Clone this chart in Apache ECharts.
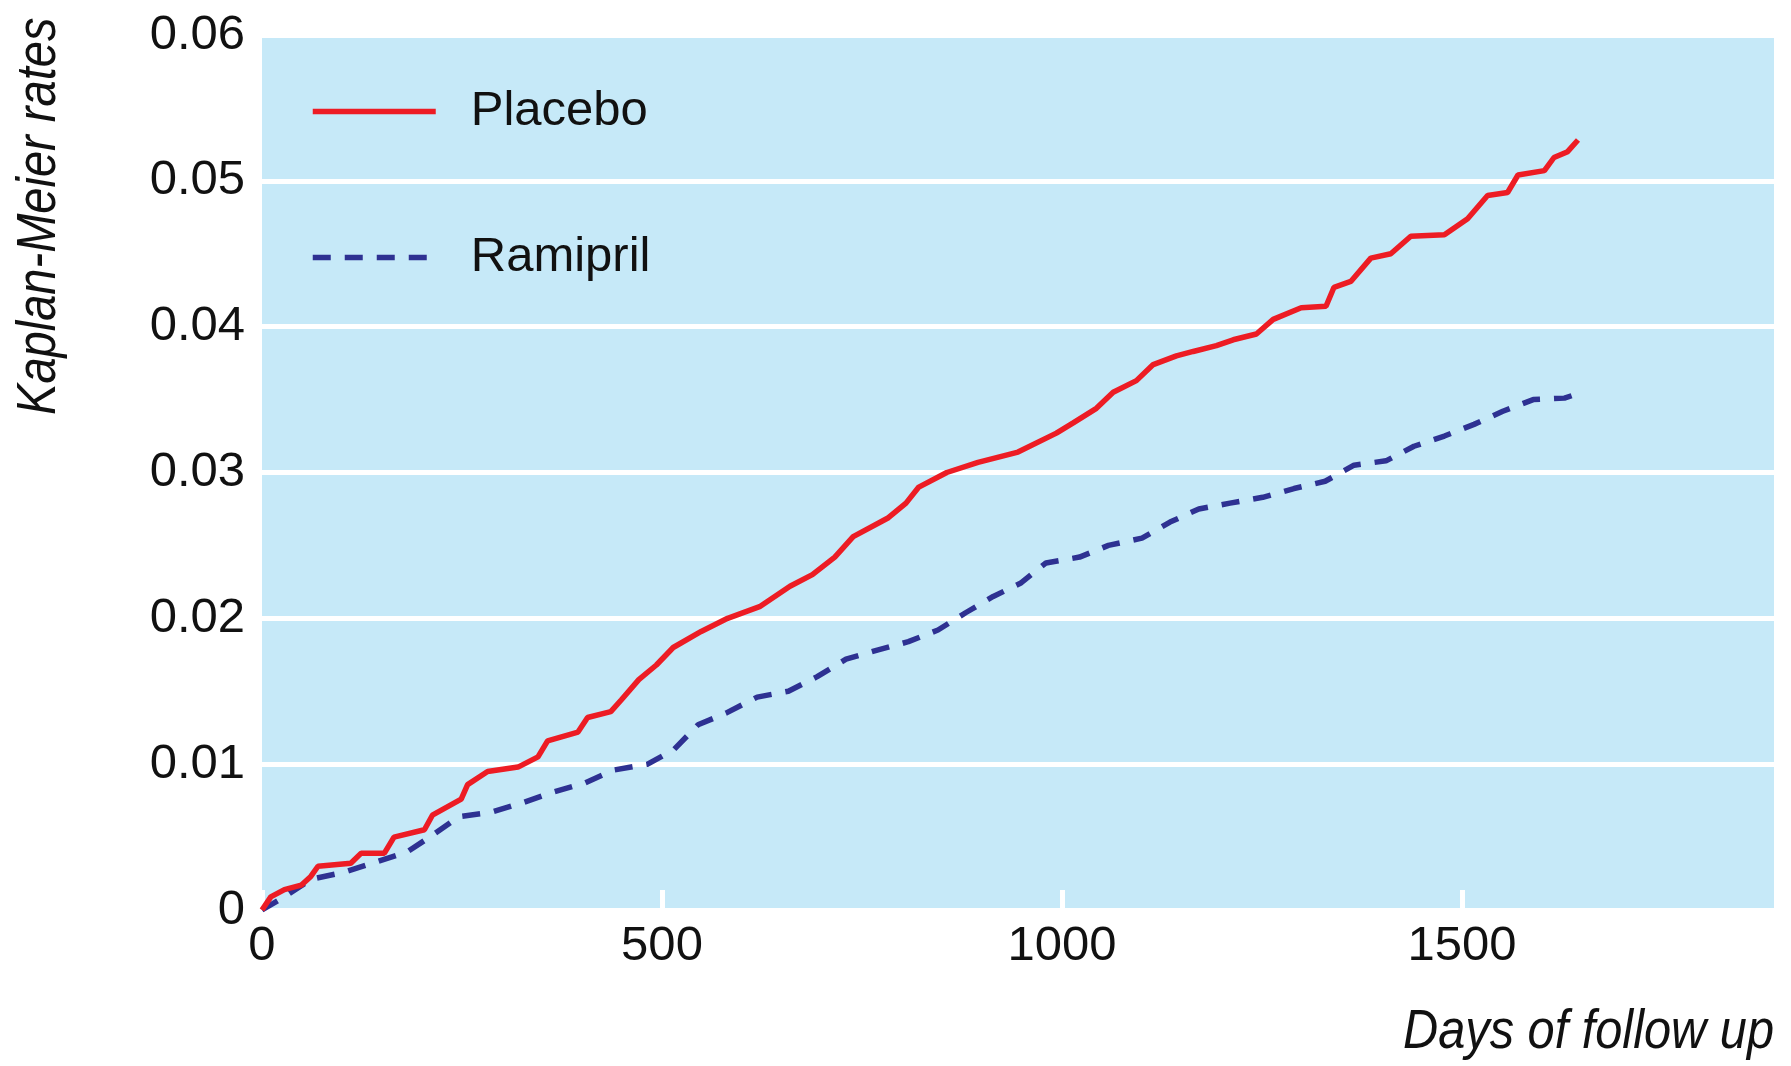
<!DOCTYPE html>
<html>
<head>
<meta charset="utf-8">
<script src="https://cdn.jsdelivr.net/npm/echarts@6/dist/echarts.min.js"></script>
<style>
html,body{margin:0;padding:0;background:#fff;}
#chart{width:1791px;height:1066px;}
</style>
</head>
<body>
<div id="chart"></div>
<script>
// ---- data ----
const seriesNames = ['Placebo', 'Ramipril'];
const placeboData = [
  [0,0],[11,0.0009],[28,0.0014],[49,0.0017],[61,0.0023],[70,0.0030],[111,0.0032],[124,0.0039],[153,0.0039],
  [165,0.0050],[203,0.0055],[213,0.0065],[249,0.0076],[257,0.0086],[282,0.0095],[320,0.0098],[345,0.0105],
  [357,0.0116],[395,0.0122],[407,0.0132],[436,0.0136],[449,0.0144],[471,0.0158],[493,0.0168],[514,0.0180],
  [549,0.0191],[582,0.0200],[622,0.0208],[660,0.0222],[688,0.0230],[716,0.0242],[739,0.0256],[783,0.0269],
  [805,0.0279],[821,0.0290],[856,0.0300],[895,0.0307],[945,0.0314],[993,0.0327],[1014,0.0334],[1043,0.0344],
  [1064,0.0355],[1093,0.0363],[1114,0.0374],[1143,0.0380],[1164,0.0383],[1193,0.0387],[1214,0.0391],
  [1243,0.0395],[1264,0.0405],[1299,0.0413],[1330,0.0414],[1340,0.0427],[1361,0.0431],[1386,0.0447],
  [1411,0.0450],[1436,0.0462],[1478,0.0463],[1507,0.0474],[1532,0.0490],[1557,0.0492],[1570,0.0504],
  [1603,0.0507],[1615,0.0516],[1632,0.0520],[1645,0.0528]
];
const ramiprilData = [
  [0,0],[28,0.0009],[61,0.0021],[103,0.0026],[143,0.0033],[182,0.0040],[215,0.0052],[246,0.0064],[286,0.0067],
  [328,0.0074],[365,0.0081],[403,0.0087],[440,0.0096],[482,0.0100],[515,0.0110],[545,0.0127],[580,0.0135],
  [619,0.0146],[658,0.0150],[694,0.0160],[730,0.0172],[768,0.0178],[808,0.0184],[845,0.0192],[880,0.0204],
  [914,0.0215],[948,0.0224],[980,0.0238],[1022,0.0242],[1058,0.0250],[1100,0.0255],[1135,0.0266],[1171,0.0275],
  [1210,0.0279],[1251,0.0283],[1290,0.0289],[1329,0.0294],[1365,0.0305],[1405,0.0308],[1440,0.0318],
  [1478,0.0325],[1515,0.0333],[1551,0.0342],[1589,0.0350],[1628,0.0351],[1639,0.0353]
];
const xTickValues = [0, 500, 1000, 1500];
const yTickLabels = ['0', '0.01', '0.02', '0.03', '0.04', '0.05', '0.06'];
const xAxisTitle = 'Days of follow up';
const yAxisTitle = 'Kaplan-Meier rates';

// ---- chart ----
const FONT = '"Liberation Sans", Arial, sans-serif';
const chart = echarts.init(document.getElementById('chart'), null, {renderer: 'canvas'});
const option = {
  animation: false,
  backgroundColor: '#ffffff',
  grid: {
    left: 262, top: 35, right: 17, bottom: 156,
    show: true, backgroundColor: '#C6E9F8', borderWidth: 0,
    containLabel: false
  },
  legend: {
    orient: 'vertical',
    left: 305, top: 82,
    itemWidth: 123, itemHeight: 56, itemGap: 97,
    data: seriesNames,
    selectedMode: false,
    itemStyle: {opacity: 0, color: 'rgba(0,0,0,0)', borderWidth: 0},
    lineStyle: {width: 5.5},
    textStyle: {fontFamily: FONT, fontSize: 49, color: '#111', padding: [0, 0, 0, 30]}
  },
  xAxis: {
    type: 'value', min: 0, max: 1890, interval: 500,
    axisLine: {show: false},
    axisTick: {show: true, inside: true, length: 20, customValues: xTickValues,
      lineStyle: {color: '#ffffff', width: 5}},
    axisLabel: {customValues: xTickValues, margin: 12, fontFamily: FONT, fontSize: 49, color: '#111',
      formatter: v => String(v)},
    splitLine: {show: false}
  },
  yAxis: {
    type: 'value', min: 0, max: 0.06, interval: 0.01,
    axisLine: {show: false},
    axisTick: {show: false},
    axisLabel: {margin: 17, fontFamily: FONT, fontSize: 49, color: '#111',
      formatter: (v, i) => yTickLabels[i]},
    splitLine: {show: true, lineStyle: {color: '#ffffff', width: 5}}
  },
  series: [
    {
      name: seriesNames[0], type: 'line', data: placeboData, symbol: 'none', smooth: false,
      lineStyle: {color: '#ED1C24', width: 5.5}, itemStyle: {color: '#ED1C24'}, z: 3
    },
    {
      name: seriesNames[1], type: 'line', data: ramiprilData, symbol: 'none', smooth: false,
      lineStyle: {color: '#2E3192', width: 5.5, type: [18, 14]}, itemStyle: {color: '#2E3192'}, z: 2
    }
  ],
  graphic: [
    {
      type: 'text', x: 39, y: 415, rotation: Math.PI / 2, scaleX: 0.84,
      style: {text: yAxisTitle, fill: '#111', font: 'italic 56px ' + FONT, textAlign: 'left', textVerticalAlign: 'middle'}
    },
    {
      type: 'text', x: 1774, y: 1032, scaleX: 0.87,
      style: {text: xAxisTitle, fill: '#111', font: 'italic 56px ' + FONT, textAlign: 'right', textVerticalAlign: 'middle'}
    }
  ]
};
chart.setOption(option);
</script>
</body>
</html>
